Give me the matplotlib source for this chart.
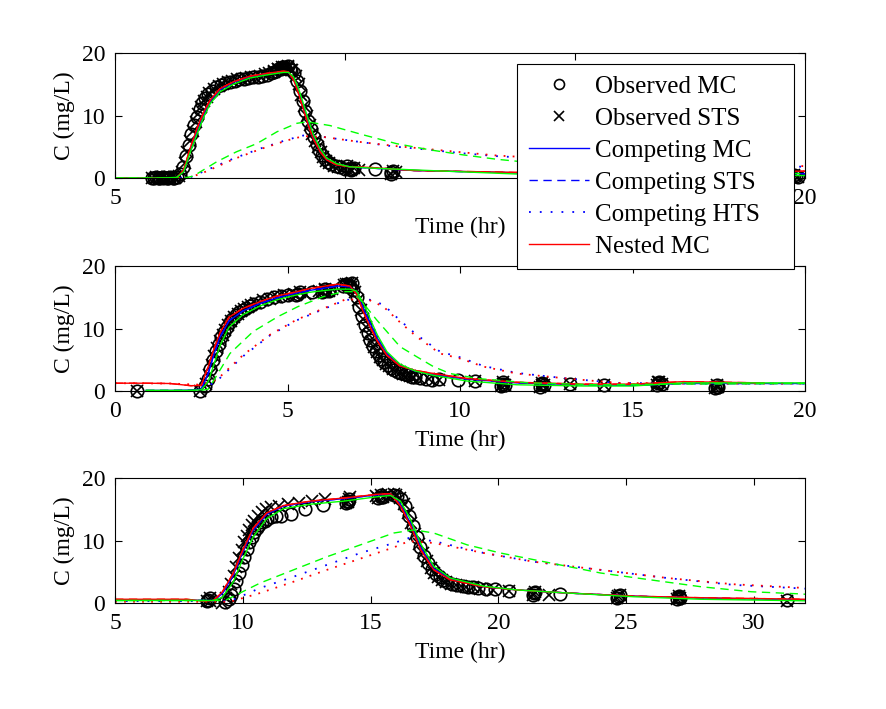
import numpy as np
import matplotlib
matplotlib.use('Agg')
import matplotlib.pyplot as plt

nan = np.nan

# ---------------- panel 1 ----------------
t1_obs_mc = [5.85, 5.95, 6.05, 6.15, 6.25, 6.35, 6.42, 6.48, 6.54, 6.60,
             6.66, 6.72, 6.78, 6.84, 6.90, 6.96, 7.02, 7.10, 7.20, 7.30,
             7.40, 7.50, 7.60, 7.70, 7.80, 7.90, 8.00, 8.10, 8.20, 8.30,
             8.40, 8.50, 8.60, 8.70, 8.80, 8.90, 8.96, 9.02, 9.08, 9.14,
             9.20, 9.26, 9.32, 9.38, 9.44, 9.50, 9.56, 9.62, 9.70, 9.80,
             9.90, 10.00, 10.15, 10.65, 11.00, 19.80]
c1_obs_mc = [0.0, 0.0, 0.0, 0.0, 0.0, 0.1, 0.6, 1.8, 3.5, 5.3,
             7.0, 8.5, 9.8, 11.0, 12.0, 12.8, 13.4, 14.0, 14.5, 14.9,
             15.2, 15.4, 15.6, 15.8, 15.9, 16.0, 16.1, 16.2, 16.3, 16.5,
             16.8, 17.2, 17.5, 17.6, 17.5, 16.8, 15.6, 14.0, 12.4, 10.8,
             9.2, 7.8, 6.5, 5.4, 4.5, 3.7, 3.1, 2.6, 2.2, 1.9,
             1.7, 1.5, 1.4, 1.5, 1.0, 0.3]
t1_obs_sts = [5.90, 6.00, 6.10, 6.20, 6.30, 6.38, 6.45, 6.51, 6.57, 6.63,
              6.69, 6.75, 6.81, 6.87, 6.93, 6.99, 7.05, 7.15, 7.25, 7.35,
              7.45, 7.55, 7.65, 7.75, 7.85, 7.95, 8.05, 8.15, 8.25, 8.35,
              8.45, 8.55, 8.65, 8.75, 8.85, 8.93, 8.99, 9.05, 9.11, 9.17,
              9.23, 9.29, 9.35, 9.41, 9.47, 9.53, 9.59, 9.66, 9.75, 9.85,
              9.95, 10.10, 10.30, 11.10, 19.70]
c1_obs_sts = [0.0, 0.0, 0.0, 0.0, 0.05, 0.3, 1.0, 2.4, 4.2, 6.0,
              7.6, 9.0, 10.3, 11.4, 12.3, 13.0, 13.6, 14.2, 14.7, 15.1,
              15.4, 15.6, 15.8, 15.9, 16.0, 16.1, 16.2, 16.4, 16.6, 16.8,
              17.1, 17.4, 17.6, 17.7, 17.3, 16.3, 15.0, 13.3, 11.6, 10.0,
              8.5, 7.1, 5.9, 4.9, 4.1, 3.4, 2.8, 2.4, 2.0, 1.8,
              1.6, 1.5, 1.3, 0.9, 0.4]
# repeated samples (both methods) that form the heavy clusters
t1_rep = [5.80, 5.88, 5.96, 6.04, 6.12, 6.20, 6.28, 8.45, 8.55, 8.62,
          8.68, 8.75, 8.82, 10.05, 10.12, 10.20, 11.00, 11.05, 19.75, 19.85]
c1_rep = [0.0, 0.1, 0.0, 0.1, 0.0, 0.1, 0.0, 17.0, 17.4, 17.8,
          17.7, 17.9, 17.3, 1.9, 1.3, 1.6, 0.7, 1.2, 0.5, 0.2]

t1_fit = [5.0, 6.0, 6.34, 6.49, 6.63, 6.78, 6.93, 7.07, 7.28, 7.57,
          7.93, 8.30, 8.66, 8.77, 8.88, 8.99, 9.09, 9.20, 9.31, 9.46,
          9.60, 9.82, 10.10, 10.54, 11.50, 13.70, 16.00, 20.00]
blue1 = [0.0, 0.0, 0.05, 1.1, 4.3, 7.5, 10.3, 12.3, 14.1, 15.3,
         16.2, 16.7, 17.0, 16.9, 15.9, 13.8, 11.5, 8.9, 6.6, 4.4,
         3.0, 2.2, 1.8, 1.6, 1.2, 0.85, 0.8, 0.7]
red1 = [0.0, 0.0, 0.05, 1.3, 4.7, 7.9, 10.6, 12.5, 14.3, 15.4,
        16.3, 16.75, 17.1, 17.0, 15.7, 13.5, 11.1, 8.5, 6.3, 4.2,
        2.9, 2.1, 1.8, 1.7, 1.2, 0.9, 1.0, 1.1]
green1 = [0.0, 0.0, 0.1, 1.0, 4.0, 7.0, 9.8, 11.9, 13.8, 15.0,
          16.0, 16.5, 16.9, 16.9, 16.2, 14.3, 12.0, 9.4, 7.0, 4.7,
          3.2, 2.3, 1.8, 1.6, 1.3, 0.65, 0.5, 0.4]
t1_slow = [5.0, 6.5, 6.7, 7.21, 7.64, 8.08, 8.52, 8.95, 9.17, 9.67,
           10.4, 11.12, 11.85, 12.57, 13.3, 14.0, 16.0, 18.0, 20.0]
green1_sts = [0.0, 0.0, 0.3, 2.6, 4.2, 5.5, 7.4, 8.75, 9.0, 8.4,
              6.9, 5.5, 4.5, 3.7, 3.0, 2.5, 1.6, 1.0, 0.7]
t1_hts = [5.0, 6.6, 7.0, 7.57, 8.15, 8.73, 9.09, 9.5, 10.4, 11.12,
          11.85, 12.57, 13.3, 15.0, 17.5, 20.0]
blue1_hts = [0.0, 0.0, 1.3, 3.1, 4.7, 6.1, 6.8, 6.6, 5.7, 5.0,
             4.5, 3.95, 3.5, 2.8, 2.2, 1.8]
red1_hts = [0.0, 0.0, 1.1, 3.0, 4.6, 6.0, 6.7, 6.6, 5.7, 5.1,
            4.6, 4.1, 3.6, 2.9, 2.3, 1.9]

# ---------------- panel 2 ----------------
t2_obs_mc = [0.63, 2.46, 2.60, 2.68, 2.76, 2.84, 2.92, 3.00, 3.08, 3.16,
             3.24, 3.32, 3.40, 3.50, 3.60, 3.70, 3.80, 3.90, 4.00, 4.20,
             4.40, 4.60, 4.80, 5.00, 5.30, 5.70, 6.05, 6.20, 6.60, 6.70,
             6.80, 6.90, 7.00, 7.08, 7.16, 7.24, 7.32, 7.40, 7.48, 7.56,
             7.64, 7.72, 7.80, 7.90, 8.00, 8.10, 8.20, 8.30, 8.40, 8.50,
             8.60, 8.70, 8.85, 9.00, 9.20, 9.40, 9.95, 10.43, 11.25, 12.37,
             13.20, 14.18, 15.74, 17.44]
c2_obs_mc = [0.0, 0.0, 0.8, 2.0, 3.5, 5.0, 6.4, 7.6, 8.6, 9.5,
             10.3, 11.0, 11.6, 12.1, 12.6, 13.0, 13.3, 13.6, 13.9, 14.3,
             14.7, 15.0, 15.2, 15.4, 15.5, 15.8, 16.0, 16.2, 16.8, 17.0,
             16.8, 16.2, 15.0, 13.5, 12.0, 10.6, 9.3, 8.2, 7.2, 6.4,
             5.7, 5.1, 4.6, 4.1, 3.7, 3.4, 3.1, 2.9, 2.7, 2.5,
             2.3, 2.2, 2.1, 1.9, 1.8, 1.9, 1.7, 1.6, 1.2, 1.1,
             1.1, 1.0, 1.3, 0.7]
t2_obs_sts = [0.63, 2.46, 2.64, 2.72, 2.80, 2.88, 2.96, 3.04, 3.12, 3.20,
              3.28, 3.36, 3.45, 3.55, 3.65, 3.75, 3.85, 3.95, 4.10, 4.30,
              4.50, 4.70, 4.90, 5.20, 5.50, 5.90, 6.10, 6.30, 6.65, 6.75,
              6.85, 6.95, 7.04, 7.12, 7.20, 7.28, 7.36, 7.44, 7.52, 7.60,
              7.68, 7.76, 7.85, 7.95, 8.05, 8.15, 8.25, 8.35, 8.45, 8.55,
              8.65, 8.80, 9.10, 9.40, 10.43, 11.25, 12.37, 13.20, 14.18, 15.74,
              17.44]
c2_obs_sts = [0.0, 0.0, 1.2, 2.6, 4.1, 5.6, 6.9, 8.0, 9.0, 9.8,
              10.5, 11.2, 11.8, 12.3, 12.8, 13.1, 13.4, 13.7, 14.1, 14.5,
              14.8, 15.1, 15.3, 15.5, 15.6, 16.0, 16.1, 16.3, 16.9, 17.1,
              16.6, 15.8, 14.5, 13.0, 11.5, 10.2, 9.0, 7.9, 7.0, 6.2,
              5.5, 4.9, 4.4, 4.0, 3.6, 3.3, 3.0, 2.8, 2.6, 2.4,
              2.3, 2.1, 1.9, 1.8, 1.6, 1.2, 1.0, 1.1, 1.0, 1.4,
              0.6]
t2_rep = [5.25, 5.35, 6.00, 6.10, 6.20, 6.70, 6.78, 6.86, 11.20, 11.25,
          11.30, 12.32, 12.37, 12.42, 15.70, 15.78, 15.85, 17.40, 17.44, 17.48]
c2_rep = [15.3, 15.8, 15.8, 16.4, 16.0, 17.2, 16.6, 17.3, 0.8, 1.5,
          1.0, 0.7, 1.3, 0.9, 1.0, 1.5, 1.2, 0.5, 0.9, 0.6]

t2_fit = [0.0, 0.9, 1.6, 2.2, 2.5, 2.7, 2.85, 3.04, 3.3, 3.7,
          4.2, 4.69, 5.2, 5.65, 6.1, 6.45, 6.81, 7.0, 7.2, 7.39,
          7.6, 7.88, 8.26, 8.7, 9.23, 10.2, 11.64, 13.57, 15.0, 16.47,
          18.8, 20.0]
blue2 = [nan, 0.1, 0.1, 0.15, 0.3, 2.8, 5.6, 8.6, 11.2, 12.8,
         14.0, 14.9, 15.6, 16.1, 16.5, 16.8, 16.7, 15.8, 13.2, 10.9,
         8.5, 6.0, 4.1, 3.2, 2.6, 1.9, 1.3, 1.0, 0.9, 1.2,
         1.2, 1.2]
red2 = [1.25, 1.25, 1.2, 0.85, 0.9, 3.9, 6.5, 9.3, 11.8, 13.2,
        14.3, 15.2, 15.8, 16.4, 16.8, 17.1, 16.8, 15.5, 12.6, 10.3,
        8.0, 5.7, 4.0, 3.3, 2.8, 2.0, 1.4, 1.1, 1.1, 1.5,
        1.3, nan]
green2 = [nan, 0.1, 0.1, 0.1, 0.2, 1.5, 4.0, 7.2, 10.2, 12.2,
          13.6, 14.6, 15.3, 15.8, 16.1, 16.3, 16.3, 16.0, 14.0, 11.6,
          9.0, 6.3, 4.3, 3.2, 2.5, 1.6, 1.0, 0.8, 0.8, 1.3,
          1.3, 1.3]
t2_slow = [0.9, 2.5, 2.7, 2.95, 3.33, 4.0, 4.72, 5.3, 6.04, 6.62,
           6.9, 7.2, 7.58, 8.26, 8.74, 9.23, 9.71, 10.5, 12.0, 14.0,
           16.0, 20.0]
green2_sts = [0.1, 0.1, 0.3, 2.5, 6.0, 9.5, 11.9, 13.5, 15.1, 15.9,
              15.9, 14.0, 11.4, 7.1, 5.5, 3.9, 2.8, 2.0, 1.3, 1.0,
              1.1, 1.2]
t2_hts = [0.0, 1.6, 2.5, 2.95, 3.72, 4.49, 5.26, 6.04, 6.7, 7.39,
          7.78, 8.26, 8.74, 9.42, 10.0, 10.68, 11.64, 13.1, 14.55, 16.5,
          20.0]
blue2_hts = [nan, nan, 0.2, 1.6, 5.6, 8.9, 11.3, 13.1, 14.6, 14.6,
             13.8, 11.3, 9.0, 6.3, 5.4, 4.0, 2.9, 2.0, 1.3, 1.2,
             1.2]
red2_hts = [1.25, 1.2, 1.0, 1.8, 5.8, 9.0, 11.4, 13.2, 14.7, 14.5,
            13.5, 11.0, 8.7, 6.0, 5.2, 3.9, 2.8, 2.0, 1.3, 1.2,
            1.2]

# ---------------- panel 3 ----------------
t3_obs_mc = [8.65, 9.30, 9.45, 9.55, 9.65, 9.75, 9.85, 9.95, 10.05, 10.15,
             10.25, 10.35, 10.45, 10.55, 10.65, 10.75, 10.85, 10.95, 11.10, 11.30,
             11.51, 11.90, 12.42, 13.14, 14.10, 15.40, 15.90, 16.05, 16.20, 16.35,
             16.50, 16.65, 16.80, 16.95, 17.10, 17.25, 17.40, 17.55, 17.70, 17.85,
             18.00, 18.20, 18.40, 18.60, 18.80, 19.00, 19.20, 19.50, 19.85, 20.40,
             21.40, 22.40, 24.70, 27.06, 31.30]
c3_obs_mc = [0.5, 0.2, 0.6, 1.3, 2.3, 3.5, 4.8, 6.1, 7.4, 8.6,
             9.7, 10.6, 11.4, 12.0, 12.5, 12.9, 13.2, 13.4, 13.7, 13.9,
             14.0, 14.3, 15.1, 15.7, 16.3, 17.0, 17.3, 17.2, 16.7, 15.6,
             14.0, 12.3, 10.6, 9.0, 7.6, 6.4, 5.4, 4.7, 4.1, 3.7,
             3.4, 3.1, 2.9, 2.7, 2.6, 2.5, 2.4, 2.3, 2.2, 2.0,
             1.6, 1.4, 1.1, 0.9, 0.5]
t3_obs_sts = [8.70, 9.20, 9.35, 9.45, 9.55, 9.65, 9.75, 9.85, 9.95, 10.05,
              10.15, 10.25, 10.35, 10.45, 10.60, 10.75, 10.90, 11.10, 11.40, 11.75,
              12.20, 12.70, 13.20, 14.20, 15.20, 15.70, 15.90, 16.00, 16.15, 16.30,
              16.45, 16.60, 16.75, 16.90, 17.05, 17.20, 17.35, 17.50, 17.65, 17.80,
              17.95, 18.15, 18.35, 18.55, 18.75, 19.00, 19.30, 19.80, 20.40, 21.40,
              22.00, 24.70, 27.06, 31.30]
c3_obs_sts = [0.3, 0.0, 0.8, 1.8, 3.0, 4.4, 5.8, 7.2, 8.5, 9.7,
              10.8, 11.7, 12.5, 13.2, 14.0, 14.6, 15.0, 15.3, 15.6, 15.8,
              16.0, 16.3, 16.6, 16.9, 17.2, 17.4, 17.5, 17.3, 16.8, 15.8,
              14.4, 12.8, 11.1, 9.5, 8.0, 6.7, 5.6, 4.8, 4.2, 3.7,
              3.4, 3.1, 2.9, 2.7, 2.6, 2.5, 2.3, 2.1, 1.9, 1.5,
              1.3, 1.1, 0.8, 0.4]
t3_rep = [8.60, 8.70, 14.05, 14.15, 14.10, 15.30, 15.40, 15.50, 21.35, 21.45,
          24.65, 24.75, 27.00, 27.06, 27.12]
c3_rep = [0.3, 0.8, 16.0, 16.6, 16.2, 16.8, 17.3, 16.9, 1.3, 1.8,
          0.8, 1.3, 0.6, 1.1, 0.8]

t3_fit = [5.0, 7.8, 8.5, 8.85, 9.2, 9.63, 10.0, 10.41, 10.93, 11.59,
          12.64, 13.95, 15.26, 15.78, 16.17, 16.57, 16.96, 17.47, 18.12, 19.43,
          20.7, 22.7, 25.3, 27.9, 32.0]
blue3 = [0.5, 0.5, 0.4, 0.4, 1.5, 4.5, 8.2, 11.7, 14.2, 15.5,
         16.2, 16.7, 17.3, 17.4, 15.8, 12.7, 8.9, 5.5, 3.8, 2.6,
         2.1, 1.6, 1.1, 0.8, 0.5]
red3 = [0.6, 0.6, 0.3, 0.4, 1.8, 4.8, 8.5, 12.0, 14.4, 15.6,
        16.3, 16.8, 17.4, 17.5, 15.5, 12.3, 8.5, 5.3, 3.7, 2.6,
        2.1, 1.6, 1.1, 0.85, 0.6]
green3 = [0.4, 0.4, 0.4, 0.4, 0.9, 3.4, 7.0, 10.6, 13.5, 15.1,
          15.8, 16.3, 17.0, 17.2, 16.3, 13.3, 9.5, 5.9, 4.0, 2.7,
          2.1, 1.6, 1.0, 0.6, 0.35]
t3_slow = [5.0, 9.3, 10.68, 11.98, 13.29, 14.6, 15.91, 16.7, 17.47, 18.78,
           20.08, 22.04, 24.0, 25.96, 27.93, 29.9, 31.86, 32.0]
green3_sts = [0.4, 0.4, 3.2, 5.3, 7.4, 9.3, 11.2, 11.7, 11.2, 9.3,
              8.0, 6.4, 4.8, 3.7, 2.6, 1.8, 1.45, 1.4]
t3_hts = [5.0, 9.5, 10.68, 11.98, 13.29, 14.6, 15.91, 16.5, 17.47, 19.43,
          21.39, 24.0, 26.6, 29.2, 32.0]
blue3_hts = [0.3, 0.3, 2.4, 4.2, 6.1, 8.0, 9.6, 10.4, 9.9, 8.0,
             6.6, 5.3, 4.0, 2.9, 2.3]
red3_hts = [0.2, 0.2, 1.6, 3.4, 5.3, 7.1, 8.9, 9.9, 9.6, 8.0,
            6.6, 5.3, 4.0, 3.0, 2.4]

panels = [
    dict(obs=(t1_obs_mc, c1_obs_mc, t1_obs_sts, c1_obs_sts), rep=(t1_rep, c1_rep),
         fit=(t1_fit, blue1, red1, green1), slow=(t1_slow, green1_sts),
         hts=(t1_hts, blue1_hts, red1_hts), xlim=(5, 20), xticks=[5, 10, 15, 20]),
    dict(obs=(t2_obs_mc, c2_obs_mc, t2_obs_sts, c2_obs_sts), rep=(t2_rep, c2_rep),
         fit=(t2_fit, blue2, red2, green2), slow=(t2_slow, green2_sts),
         hts=(t2_hts, blue2_hts, red2_hts), xlim=(0, 20), xticks=[0, 5, 10, 15, 20]),
    dict(obs=(t3_obs_mc, c3_obs_mc, t3_obs_sts, c3_obs_sts), rep=(t3_rep, c3_rep),
         fit=(t3_fit, blue3, red3, green3), slow=(t3_slow, green3_sts),
         hts=(t3_hts, blue3_hts, red3_hts), xlim=(5, 32), xticks=[5, 10, 15, 20, 25, 30]),
]

plt.rcParams['font.family'] = ['Liberation Serif', 'DejaVu Serif']
plt.rcParams['font.size'] = 17
plt.rcParams['axes.linewidth'] = 0.8

fig = plt.figure(figsize=(8.87, 7.09), dpi=100)
bottoms = [0.7489, 0.4485, 0.1495]
GREEN = (0, 1, 0)
dot = (1, 5)
dash = (6, 4)

axes = []
for p, b in zip(panels, bottoms):
    ax = fig.add_axes([0.1297, b, 0.7779, 0.1763])
    t_mc, c_mc, t_sts, c_sts = p['obs']
    t_rep, c_rep = p['rep']
    t_fit, blue, red, green = p['fit']
    t_slow, green_sts = p['slow']
    t_hts, blue_hts, red_hts = p['hts']

    ax.plot(t_mc, c_mc, 'o', mfc='none', mec='k', ms=9, mew=1.2, clip_on=False,
            label='Observed MC')
    ax.plot(t_sts, c_sts, 'x', color='k', ms=9, mew=1.2, clip_on=False,
            label='Observed STS')
    ax.plot(t_rep, c_rep, 'o', mfc='none', mec='k', ms=9, mew=1.2, clip_on=False)
    ax.plot(t_rep, c_rep, 'x', color='k', ms=9, mew=1.2, clip_on=False)
    ax.plot(t_fit, blue, '-', color='b', lw=1, label='Competing MC')
    ax.plot(t_fit, blue, '--', color='b', lw=1, dashes=dash, label='Competing STS')
    ax.plot(t_hts, blue_hts, ':', color='b', lw=1.3, dashes=dot, label='Competing HTS')
    ax.plot(t_fit, red, '-', color='r', lw=1, label='Nested MC')
    ax.plot(t_fit, red, '--', color='r', lw=1, dashes=dash)
    ax.plot(t_hts, red_hts, ':', color='r', lw=1.3, dashes=(1, 4))
    ax.plot(t_fit, green, '-', color=GREEN, lw=1)
    ax.plot(t_slow, green_sts, '--', color=GREEN, lw=1, dashes=dash)

    ax.set_xlim(*p['xlim'])
    ax.set_ylim(0, 20)
    ax.set_xticks(p['xticks'])
    ax.set_yticks([0, 10, 20])
    ax.tick_params(direction='in', top=True, right=True, length=5, width=0.8, pad=7)
    ax.set_xlabel('Time (hr)', labelpad=6)
    ax.set_ylabel('C (mg/L)', labelpad=5)
    axes.append(ax)

ax1 = axes[0]
ax1.set_zorder(5)
leg = ax1.legend(loc='upper left', bbox_to_anchor=(0.583, 0.912, 0.401, 0.0), mode='expand',
                 fontsize=18, frameon=True, fancybox=False, edgecolor='k', framealpha=1,
                 handlelength=2.4, handletextpad=0.25, labelspacing=0.38, borderpad=0.45,
                 borderaxespad=0, markerscale=0.8)
leg.get_frame().set_linewidth(0.8)

fig.savefig('out.png', dpi=100)
